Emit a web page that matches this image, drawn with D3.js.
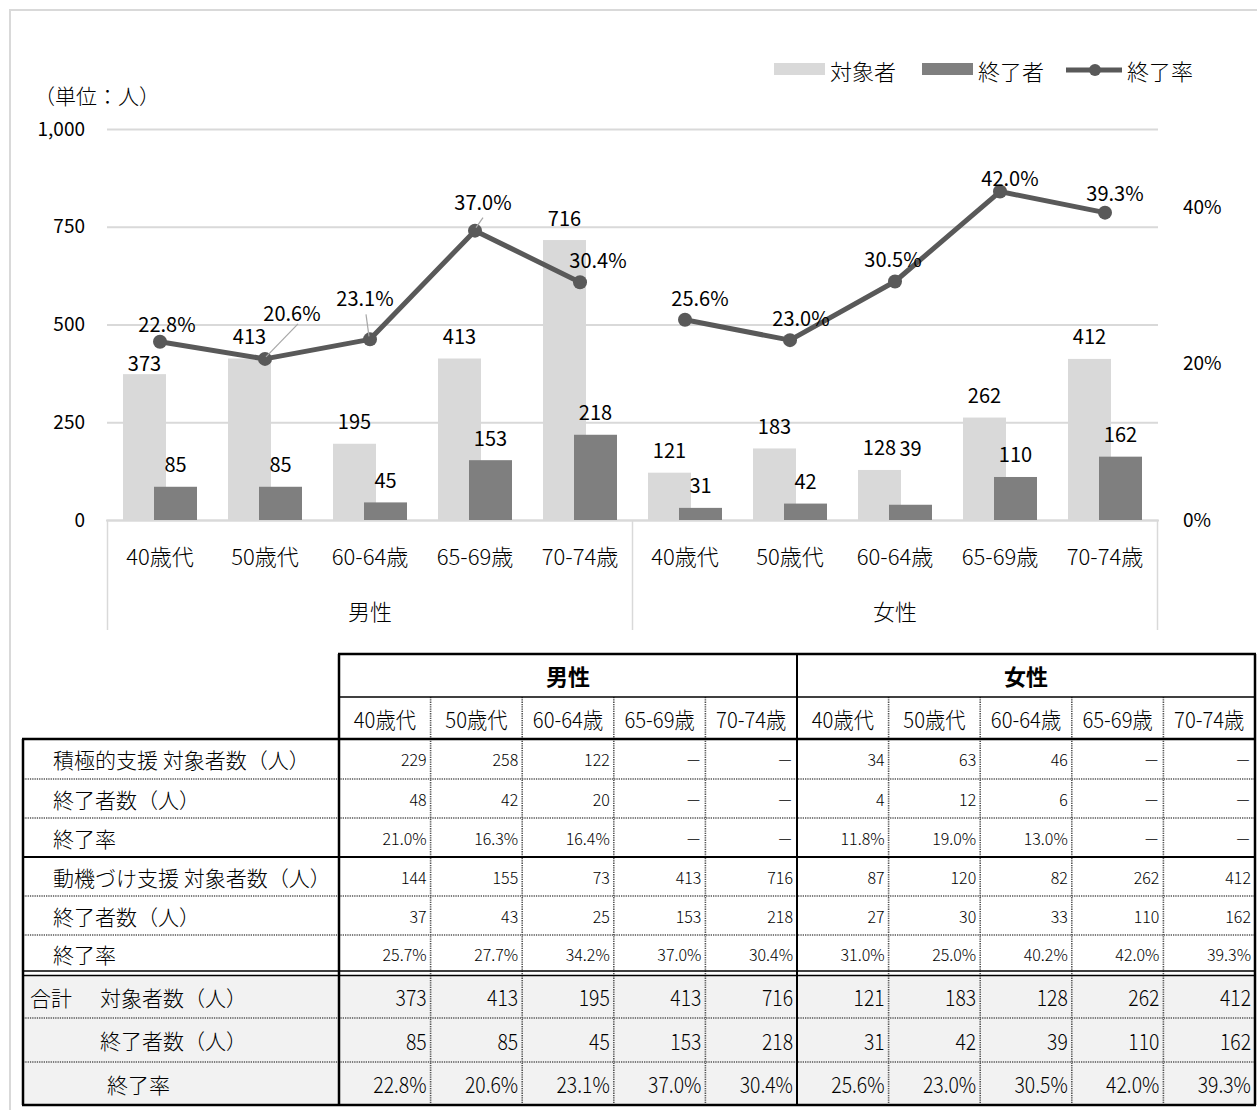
<!DOCTYPE html>
<html>
<head>
<meta charset="utf-8">
<script src="https://cdn.jsdelivr.net/npm/d3@7"></script>
<style>
  html, body { margin: 0; padding: 0; background: #fff; }
  svg text { font-family: "Noto Sans CJK JP", "Noto Sans", sans-serif; fill: #000; font-weight: 300; }
  svg text.num { font-weight: 400; }
</style>
</head>
<body>
<svg id="chart" width="1257" height="1110"></svg>
<script>
// ---- data ----
const genders = ["男性", "女性"];
const ages = ["40歳代", "50歳代", "60-64歳", "65-69歳", "70-74歳"];

// totals (chart series)
const targets    = [373, 413, 195, 413, 716, 121, 183, 128, 262, 412];
const completers = [85, 85, 45, 153, 218, 31, 42, 39, 110, 162];
const rates      = [22.8, 20.6, 23.1, 37.0, 30.4, 25.6, 23.0, 30.5, 42.0, 39.3];

// 積極的支援
const activeTargets = [229, 258, 122, null, null, 34, 63, 46, null, null];
const activeDone    = [48, 42, 20, null, null, 4, 12, 6, null, null];
const activeRate    = [21.0, 16.3, 16.4, null, null, 11.8, 19.0, 13.0, null, null];

// 動機づけ支援
const motivTargets = [144, 155, 73, 413, 716, 87, 120, 82, 262, 412];
const motivDone    = [37, 43, 25, 153, 218, 27, 30, 33, 110, 162];
const motivRate    = [25.7, 27.7, 34.2, 37.0, 30.4, 31.0, 25.0, 40.2, 42.0, 39.3];

const leftTicks = [0, 250, 500, 750, 1000];
const rightTicks = [0, 0.2, 0.4];
const seriesNames = ["対象者", "終了者", "終了率"];

// ---- styling ----
const C_LIGHT = "#d9d9d9", C_DARK = "#7f7f7f", C_LINE = "#595959", C_GRID = "#d9d9d9";
const FS_TICK = 19, FS_LABEL = 20, FS_CAT = 22, FS_LEGEND = 22;

const svg = d3.select("#chart");

// outer frame
svg.append("rect").attr("x", 10).attr("y", 10).attr("width", 1270).attr("height", 1120)
  .attr("fill", "none").attr("stroke", "#d9d9d9").attr("stroke-width", 2);

// ---- scales ----
const idx = d3.range(targets.length);
const x = d3.scaleBand().domain(idx).range([107.5, 1157.5]).padding(0);
const y = d3.scaleLinear().domain([0, 1000]).range([520, 129]);
const y2 = d3.scaleLinear().domain([0, 0.5]).range([520, 129]);
const cx = i => x(i) + x.bandwidth() / 2;

// gridlines + left axis
const gAxisL = svg.append("g").attr("transform", "translate(107,0)")
  .call(d3.axisLeft(y).tickValues(leftTicks).tickSize(-1051).tickPadding(22).tickFormat(d3.format(",")));
gAxisL.select(".domain").remove();
gAxisL.selectAll(".tick line").attr("stroke", C_GRID).attr("stroke-width", 2);
gAxisL.selectAll(".tick text").attr("class", "num").attr("font-size", FS_TICK).attr("fill", "#000")
  .style("font-family", "'Noto Sans CJK JP', sans-serif");

// right axis
const gAxisR = svg.append("g").attr("transform", "translate(1158,0)")
  .call(d3.axisRight(y2).tickValues(rightTicks).tickSize(0).tickPadding(25).tickFormat(d3.format(".0%")));
gAxisR.select(".domain").remove();
gAxisR.selectAll(".tick text").attr("class", "num").attr("font-size", FS_TICK).attr("fill", "#000")
  .style("font-family", "'Noto Sans CJK JP', sans-serif");

// category axis frame (baseline + group separators)
svg.append("line").attr("x1", 106).attr("x2", 1159).attr("y1", 520.5).attr("y2", 520.5)
  .attr("stroke", C_GRID).attr("stroke-width", 2);
[0, 5, 10].forEach(k => {
  const xx = k < 10 ? x(k) : x(9) + x.bandwidth();
  svg.append("line").attr("x1", xx).attr("x2", xx).attr("y1", 520).attr("y2", 630)
    .attr("stroke", C_GRID).attr("stroke-width", 1.5);
});

// ---- bars ----
const barW = 43;
svg.append("g").selectAll("rect").data(idx).join("rect")
  .attr("x", i => cx(i) - 37).attr("width", barW)
  .attr("y", i => y(targets[i])).attr("height", i => y(0) - y(targets[i]))
  .attr("fill", C_LIGHT);
svg.append("g").selectAll("rect").data(idx).join("rect")
  .attr("x", i => cx(i) - 6).attr("width", barW)
  .attr("y", i => y(completers[i])).attr("height", i => y(0) - y(completers[i]))
  .attr("fill", C_DARK);

// bar value labels (a couple are lifted/lowered to avoid the line)
const lightLift = {0: -12};
const darkLift = {7: -57};
svg.append("g").selectAll("text").data(idx).join("text").attr("class", "num")
  .attr("x", i => cx(i) - 15.5)
  .attr("y", i => y(targets[i]) + (lightLift[i] ?? -23))
  .attr("text-anchor", "middle").attr("dominant-baseline", "central")
  .attr("font-size", FS_LABEL).text(i => targets[i]);
svg.append("g").selectAll("text").data(idx).join("text").attr("class", "num")
  .attr("x", i => cx(i) + 15.5)
  .attr("y", i => y(completers[i]) + (darkLift[i] ?? -23))
  .attr("text-anchor", "middle").attr("dominant-baseline", "central")
  .attr("font-size", FS_LABEL).text(i => completers[i]);

// ---- rate line (one segment per gender) ----
const line = d3.line().x(i => cx(i)).y(i => y2(rates[i] / 100));
genders.forEach((g, gi) => {
  const seg = idx.slice(gi * 5, gi * 5 + 5);
  svg.append("path").datum(seg).attr("d", line)
    .attr("fill", "none").attr("stroke", C_LINE).attr("stroke-width", 5)
    .attr("stroke-linejoin", "round");
});
svg.append("g").selectAll("circle").data(idx).join("circle")
  .attr("cx", i => cx(i)).attr("cy", i => y2(rates[i] / 100)).attr("r", 7)
  .attr("fill", C_LINE);

// rate labels: offsets from each point, leader lines where pulled away
const rateOffset = [[7, -18], [27, -46], [-5, -42], [8, -29], [18, -23],
                    [15, -22], [11, -23], [-2, -23], [10, -14], [10, -20]];
const leaders = {1: [[33, -35], [1, -2]], 2: [[-4, -25], [-1, -3]], 3: [[8, -13], [1, -3]]};
Object.entries(leaders).forEach(([i, pts]) => {
  i = +i;
  svg.append("line")
    .attr("x1", cx(i) + pts[0][0]).attr("y1", y2(rates[i] / 100) + pts[0][1])
    .attr("x2", cx(i) + pts[1][0]).attr("y2", y2(rates[i] / 100) + pts[1][1])
    .attr("stroke", "#a6a6a6").attr("stroke-width", 1.2);
});
svg.append("g").selectAll("text").data(idx).join("text").attr("class", "num")
  .attr("x", i => cx(i) + rateOffset[i][0])
  .attr("y", i => y2(rates[i] / 100) + rateOffset[i][1])
  .attr("text-anchor", "middle").attr("dominant-baseline", "central")
  .attr("font-size", FS_LABEL).text(i => d3.format(".1f")(rates[i]) + "%");

// category labels
svg.append("g").selectAll("text").data(idx).join("text")
  .attr("x", i => cx(i)).attr("y", 555)
  .attr("text-anchor", "middle").attr("dominant-baseline", "central")
  .attr("font-size", FS_CAT).text(i => ages[i % 5]);
genders.forEach((g, gi) => {
  svg.append("text").attr("x", (x(gi * 5) + x(gi * 5 + 4) + x.bandwidth()) / 2).attr("y", 610)
    .attr("text-anchor", "middle").attr("dominant-baseline", "central")
    .attr("font-size", FS_CAT).text(g);
});

// unit note
svg.append("text").attr("x", 34).attr("y", 95).attr("dominant-baseline", "central")
  .attr("font-size", 21).text("（単位：人）");

// legend
const lg = svg.append("g");
lg.append("rect").attr("x", 774).attr("y", 63).attr("width", 51).attr("height", 12).attr("fill", C_LIGHT);
lg.append("text").attr("x", 830).attr("y", 70).attr("dominant-baseline", "central").attr("font-size", FS_LEGEND).text(seriesNames[0]);
lg.append("rect").attr("x", 922).attr("y", 63).attr("width", 51).attr("height", 12).attr("fill", C_DARK);
lg.append("text").attr("x", 978).attr("y", 70).attr("dominant-baseline", "central").attr("font-size", FS_LEGEND).text(seriesNames[1]);
lg.append("line").attr("x1", 1066).attr("x2", 1122).attr("y1", 70).attr("y2", 70)
  .attr("stroke", C_LINE).attr("stroke-width", 5);
lg.append("circle").attr("cx", 1095).attr("cy", 70).attr("r", 6).attr("fill", C_LINE);
lg.append("text").attr("x", 1127).attr("y", 70).attr("dominant-baseline", "central").attr("font-size", FS_LEGEND).text(seriesNames[2]);

// ---- table ----
const tLeft = 23, tLabelR = 339, tRight = 1255;
const colX = d3.scaleBand().domain(idx).range([tLabelR, tRight]);
const hTop = 654, hMid = 697, dTop = 739;
const pct = v => v == null ? "－" : d3.format(".1f")(v) + "%";
const num = v => v == null ? "－" : String(v);

const rows = [
  {label: [["積極的支援 対象者数（人）", 53]], vals: activeTargets, fmt: num, small: true},
  {label: [["終了者数（人）", 53]], vals: activeDone, fmt: num, small: true},
  {label: [["終了率", 53]], vals: activeRate, fmt: pct, small: true},
  {label: [["動機づけ支援 対象者数（人）", 53]], vals: motivTargets, fmt: num, small: true},
  {label: [["終了者数（人）", 53]], vals: motivDone, fmt: num, small: true},
  {label: [["終了率", 53]], vals: motivRate, fmt: pct, small: true},
  {label: [["合計", 30], ["対象者数（人）", 100]], vals: targets, fmt: num, small: false},
  {label: [["終了者数（人）", 100]], vals: completers, fmt: num, small: false},
  {label: [["終了率", 107]], vals: rates, fmt: pct, small: false}
];
const rowBounds = [[739, 779], [779, 818], [818, 857], [857, 896], [896, 935], [935, 973],
                   [975, 1018], [1018, 1062], [1062, 1105]];

const tbl = svg.append("g");
// total rows shading
tbl.append("rect").attr("x", tLeft).attr("y", 975).attr("width", tRight - tLeft).attr("height", 1105 - 975)
  .attr("fill", "#f2f2f2");

// dotted inner lines
const dotted = (x1, y1, x2, y2) => tbl.append("line").attr("x1", x1).attr("y1", y1).attr("x2", x2).attr("y2", y2)
  .attr("stroke", "#555").attr("stroke-width", 1.6).attr("stroke-dasharray", "1.3,1");
[779, 818, 896, 935, 1018, 1062].forEach(yy => dotted(tLeft, yy, tRight, yy));
idx.forEach(i => { if (i > 0 && i !== 5) dotted(colX(i), hMid, colX(i), 1105); });

// solid lines
const solid = (x1, y1, x2, y2, w) => tbl.append("line").attr("x1", x1).attr("y1", y1).attr("x2", x2).attr("y2", y2)
  .attr("stroke", "#000").attr("stroke-width", w);
solid(tLabelR - 1, hTop, tRight + 1, hTop, 2.5);
solid(tLabelR, hMid, tRight, hMid, 1.5);
solid(tLeft - 1, dTop, tRight + 1, dTop, 2.5);
solid(tLeft, 857, tRight, 857, 2);
solid(tLeft, 971, tRight, 971, 1.5);
solid(tLeft, 975.5, tRight, 975.5, 1.5);
solid(tLeft - 1, 1105, tRight + 1, 1105, 2.5);
solid(tLeft, dTop, tLeft, 1105, 2.5);
solid(tLabelR, hTop, tLabelR, 1105, 2.5);
solid(colX(5), hTop, colX(5), 1105, 2);
solid(tRight, hTop, tRight, 1105, 2.5);

// header texts
genders.forEach((g, gi) => {
  tbl.append("text").attr("x", (colX(gi * 5) + colX(gi * 5 + 4) + colX.bandwidth()) / 2).attr("y", 675)
    .attr("text-anchor", "middle").attr("dominant-baseline", "central")
    .attr("font-size", 22).style("font-weight", 700).text(g);
});
idx.forEach(i => {
  const tx = colX(i) + colX.bandwidth() / 2;
  tbl.append("text").attr("transform", `translate(${tx},718) scale(0.92,1)`)
    .attr("text-anchor", "middle").attr("dominant-baseline", "central")
    .attr("font-size", 22).text(ages[i % 5]);
});

// body texts
rows.forEach((r, ri) => {
  const [a, b] = rowBounds[ri];
  const ym = (a + b) / 2;
  r.label.forEach(([t, lx]) => {
    tbl.append("text").attr("x", lx).attr("y", ym).attr("dominant-baseline", "central")
      .attr("font-size", 21).text(t);
  });
  idx.forEach(i => {
    const tx = colX(i) + colX.bandwidth() - 4;
    tbl.append("text")
      .attr("transform", r.small ? `translate(${tx},${ym})` : `translate(${tx},${ym}) scale(0.88,1)`)
      .attr("text-anchor", "end").attr("dominant-baseline", "central")
      .attr("font-size", r.small ? 16 : 22).text(r.fmt(r.vals[i]));
  });
});
</script>
</body>
</html>
